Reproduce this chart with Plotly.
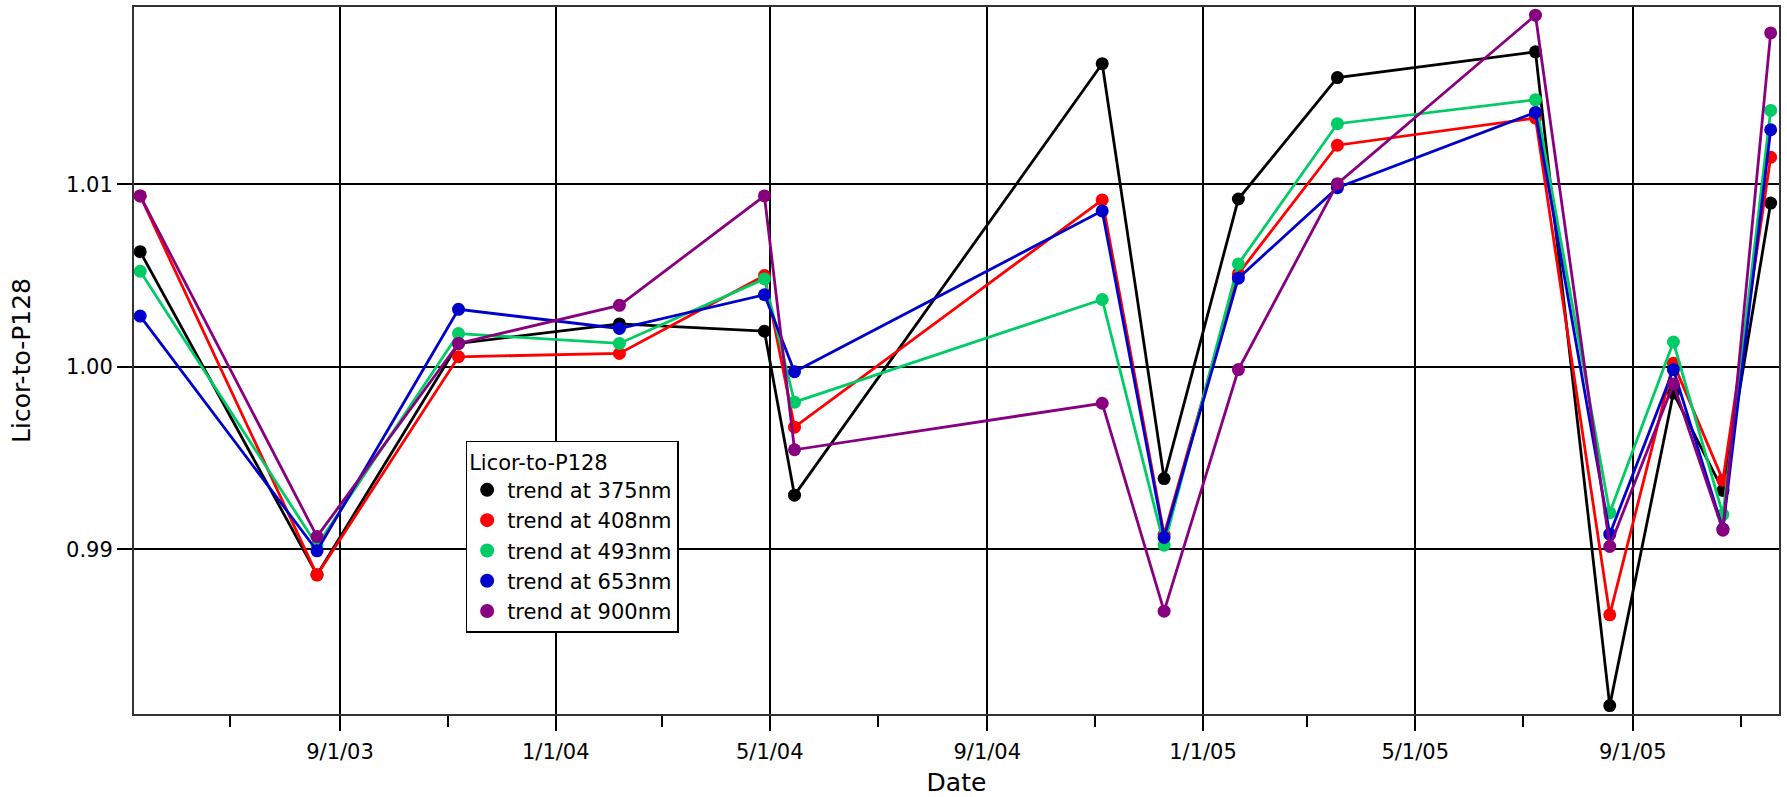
import plotly.graph_objects as go

dates = ['2003-05-11', '2003-08-19', '2003-11-07', '2004-02-06', '2004-04-28',
         '2004-05-15', '2004-11-05', '2004-12-10', '2005-01-21', '2005-03-18',
         '2005-07-08', '2005-08-19', '2005-09-24', '2005-10-22', '2005-11-18']

trend_375 = [1.00631, 0.98860, 1.00128, 1.00235, 1.00195, 0.99296, 1.01662, 0.99387,
             1.00920, 1.01586, 1.01727, 0.98142, 0.99856, 0.99322, 1.00898]
trend_408 = [1.00937, 0.98858, 1.00055, 1.00073, 1.00500, 0.99669, 1.00915, 0.99080,
             1.00510, 1.01215, 1.01364, 0.98640, 1.00020, 0.99378, 1.01149]
trend_493 = [1.00524, 0.99020, 1.00182, 1.00128, 1.00482, 0.99806, 1.00369, 0.99022,
             1.00564, 1.01333, 1.01464, 0.99200, 1.00136, 0.99190, 1.01406]
trend_653 = [1.00278, 0.98991, 1.00315, 1.00210, 1.00395, 0.99973, 1.00855, 0.99064,
             1.00486, 1.00982, 1.01395, 0.99082, 0.99985, 0.99110, 1.01300]
trend_900 = [1.00937, 0.99069, 1.00128, 1.00337, 1.00937, 0.99545, 0.99800, 0.98660,
             0.99985, 1.01004, 1.01928, 0.99015, 0.99906, 0.99104, 1.01831]

names = ['trend at 375nm', 'trend at 408nm', 'trend at 493nm', 'trend at 653nm', 'trend at 900nm']
colors = ['#000000', '#FF0000', '#00CC66', '#0000CC', '#880080']
series = [trend_375, trend_408, trend_493, trend_653, trend_900]

major_ticks = ['2003-09-01', '2004-01-01', '2004-05-01', '2004-09-01',
               '2005-01-01', '2005-05-01', '2005-09-01']
major_text = ['9/1/03', '1/1/04', '5/1/04', '9/1/04', '1/1/05', '5/1/05', '9/1/05']
minor_ticks = ['2003-07-01', '2003-11-01', '2004-03-01', '2004-07-01',
               '2004-11-01', '2005-03-01', '2005-07-01', '2005-11-01']

y_ticks = [0.99, 1.00, 1.01]
y_text = ['0.99', '1.00', '1.01']

fig = go.Figure()

for name, color, vals in zip(names, colors, series):
    fig.add_trace(go.Scatter(
        x=dates, y=vals, mode='lines+markers', name=name,
        line={'color': color, 'width': 2.8},
        marker={'color': color, 'size': 13},
        legendgroup=name, showlegend=False,
    ))
    # legend entry: marker only
    fig.add_trace(go.Scatter(
        x=[None], y=[None], mode='markers', name=name,
        marker={'color': color, 'size': 14},
        legendgroup=name, showlegend=True,
    ))

fig.update_layout(
    width=1787, height=797,
    paper_bgcolor='white', plot_bgcolor='white',
    font={'family': 'DejaVu Sans', 'size': 21, 'color': 'black'},
    margin={'l': 134, 'r': 8, 't': 5, 'b': 81},
    showlegend=True,
    legend={'title': {'text': 'Licor-to-P128', 'font': {'size': 21}},
            'font': {'size': 21},
            'x': 0.2016, 'y': 0.3863, 'xanchor': 'left', 'yanchor': 'top',
            'bgcolor': 'white', 'bordercolor': 'black', 'borderwidth': 1.5,
            'itemsizing': 'trace', 'tracegroupgap': 0},
    xaxis={'title': {'text': 'Date', 'standoff': 10},
           'range': ['2003-05-07 12:00', '2005-11-22 17:00'],
           'tickmode': 'array', 'tickvals': major_ticks, 'ticktext': major_text,
           'ticks': 'outside', 'ticklen': 15, 'tickwidth': 1.5, 'tickcolor': 'black',
           'ticklabelstandoff': 3,
           'showgrid': True, 'gridcolor': 'black', 'gridwidth': 1.5,
           'minor': {'tickvals': minor_ticks, 'ticks': 'outside', 'ticklen': 11,
                     'tickwidth': 1.5, 'tickcolor': 'black', 'showgrid': False},
           'showline': True, 'linecolor': '#333333', 'linewidth': 2, 'mirror': True,
           'zeroline': False},
    yaxis={'title': {'text': 'Licor-to-P128', 'standoff': 28},
           'range': [0.98096, 1.01973],
           'tickmode': 'array', 'tickvals': y_ticks, 'ticktext': y_text,
           'ticks': 'outside', 'ticklen': 15, 'tickwidth': 1.5, 'tickcolor': 'black',
           'showgrid': True, 'gridcolor': 'black', 'gridwidth': 1.5,
           'showline': True, 'linecolor': '#333333', 'linewidth': 2, 'mirror': True,
           'zeroline': False},
)

fig.write_html("out.html", config={'displayModeBar': False},
               post_script="document.body.style.margin='0';")
